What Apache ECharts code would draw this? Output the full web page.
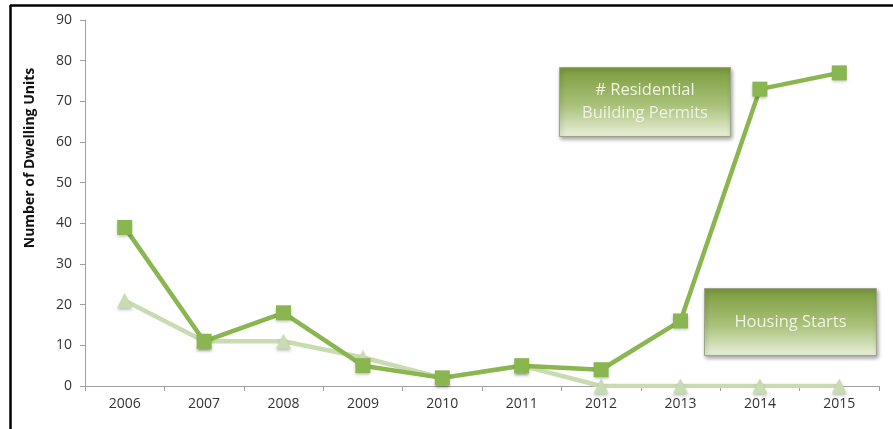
<!DOCTYPE html>
<html><head><meta charset="utf-8">
<script src="https://cdn.jsdelivr.net/npm/echarts@6/dist/echarts.min.js"></script>
<style>html,body{margin:0;padding:0;background:#fff}#c{width:893px;height:429px}</style>
</head><body><div id="c"></div>
<script>
const years = ['2006','2007','2008','2009','2010','2011','2012','2013','2014','2015'];
const permits = [39, 11, 18, 5, 2, 5, 4, 16, 73, 77];
const starts = [21, 11, 11, 7, 2, 5, 0, 0, 0, 0];
const yTicks = [0, 10, 20, 30, 40, 50, 60, 70, 80, 90];
const yTitle = 'Number of Dwelling Units';

const chart = echarts.init(document.getElementById('c'));
const boxGrad = new echarts.graphic.LinearGradient(0, 0, 0, 1, [
  {offset: 0, color: '#7b9a3c'}, {offset: 0.55, color: '#a9c27a'}, {offset: 1, color: '#eaf0dc'}
]);
function box(x, y, w, h, text) {
  return {
    type: 'group', left: x, top: y, z: 100, children: [
      {type: 'rect', shape: {x: 0, y: 0, width: w, height: h},
       style: {fill: boxGrad, stroke: '#9aa58a', lineWidth: 1, shadowBlur: 4, shadowColor: 'rgba(0,0,0,0.35)', shadowOffsetX: 1, shadowOffsetY: 2}},
      {type: 'text', style: {x: w / 2, y: h / 2, text: text, align: 'center', verticalAlign: 'middle',
        fill: '#eef3e2', font: '16.5px "Open Sans", sans-serif', lineHeight: 23}}
    ]
  };
}
chart.setOption({
  animation: false,
  grid: {left: 85, right: 14, top: 20, bottom: 43},
  xAxis: {
    type: 'category', data: years, boundaryGap: true,
    axisLine: {lineStyle: {color: '#a0a0a0', width: 1}},
    axisTick: {show: true, inside: false, length: 5, lineStyle: {color: '#a0a0a0'}},
    axisLabel: {color: '#333', fontSize: 14, fontFamily: 'Open Sans', margin: 11}
  },
  yAxis: {
    type: 'value', min: yTicks[0], max: yTicks[yTicks.length - 1], interval: 10,
    axisLine: {show: true, lineStyle: {color: '#a0a0a0', width: 1}},
    axisTick: {show: true, length: 5, lineStyle: {color: '#a0a0a0'}},
    axisLabel: {color: '#333', fontSize: 14, fontFamily: 'Open Sans', margin: 13},
    splitLine: {show: false}
  },
  series: [
    {
      name: 'Housing Starts', type: 'line', data: starts, z: 2,
      symbol: 'triangle', symbolSize: 15,
      lineStyle: {color: '#c9dbb0', width: 4.5},
      itemStyle: {color: '#c9dbb0', shadowBlur: 3, shadowColor: 'rgba(0,0,0,0.25)', shadowOffsetY: 2}
    },
    {
      name: '# Residential Building Permits', type: 'line', data: permits, z: 3,
      symbol: 'rect', symbolSize: 15,
      lineStyle: {color: '#8ab64f', width: 4.5},
      itemStyle: {color: '#8ab64f', shadowBlur: 3, shadowColor: 'rgba(0,0,0,0.25)', shadowOffsetY: 2}
    }
  ],
  graphic: [
    {type: 'line', shape: {x1: 10, y1: 5.5, x2: 893, y2: 5.5}, style: {stroke: '#000', lineWidth: 2.5}, z: 200},
    {type: 'line', shape: {x1: 10.5, y1: 5, x2: 10.5, y2: 429}, style: {stroke: '#000', lineWidth: 2.5}, z: 200},
    {type: 'text', x: 30, y: 158, rotation: Math.PI / 2, z: 50,
     style: {text: yTitle, align: 'center', verticalAlign: 'middle', fill: '#111',
       font: 'bold 14px "Open Sans", sans-serif'}},
    box(559, 67, 171, 69, '# Residential\nBuilding Permits'),
    box(704, 288, 172, 67, 'Housing Starts')
  ]
});
</script></body></html>
